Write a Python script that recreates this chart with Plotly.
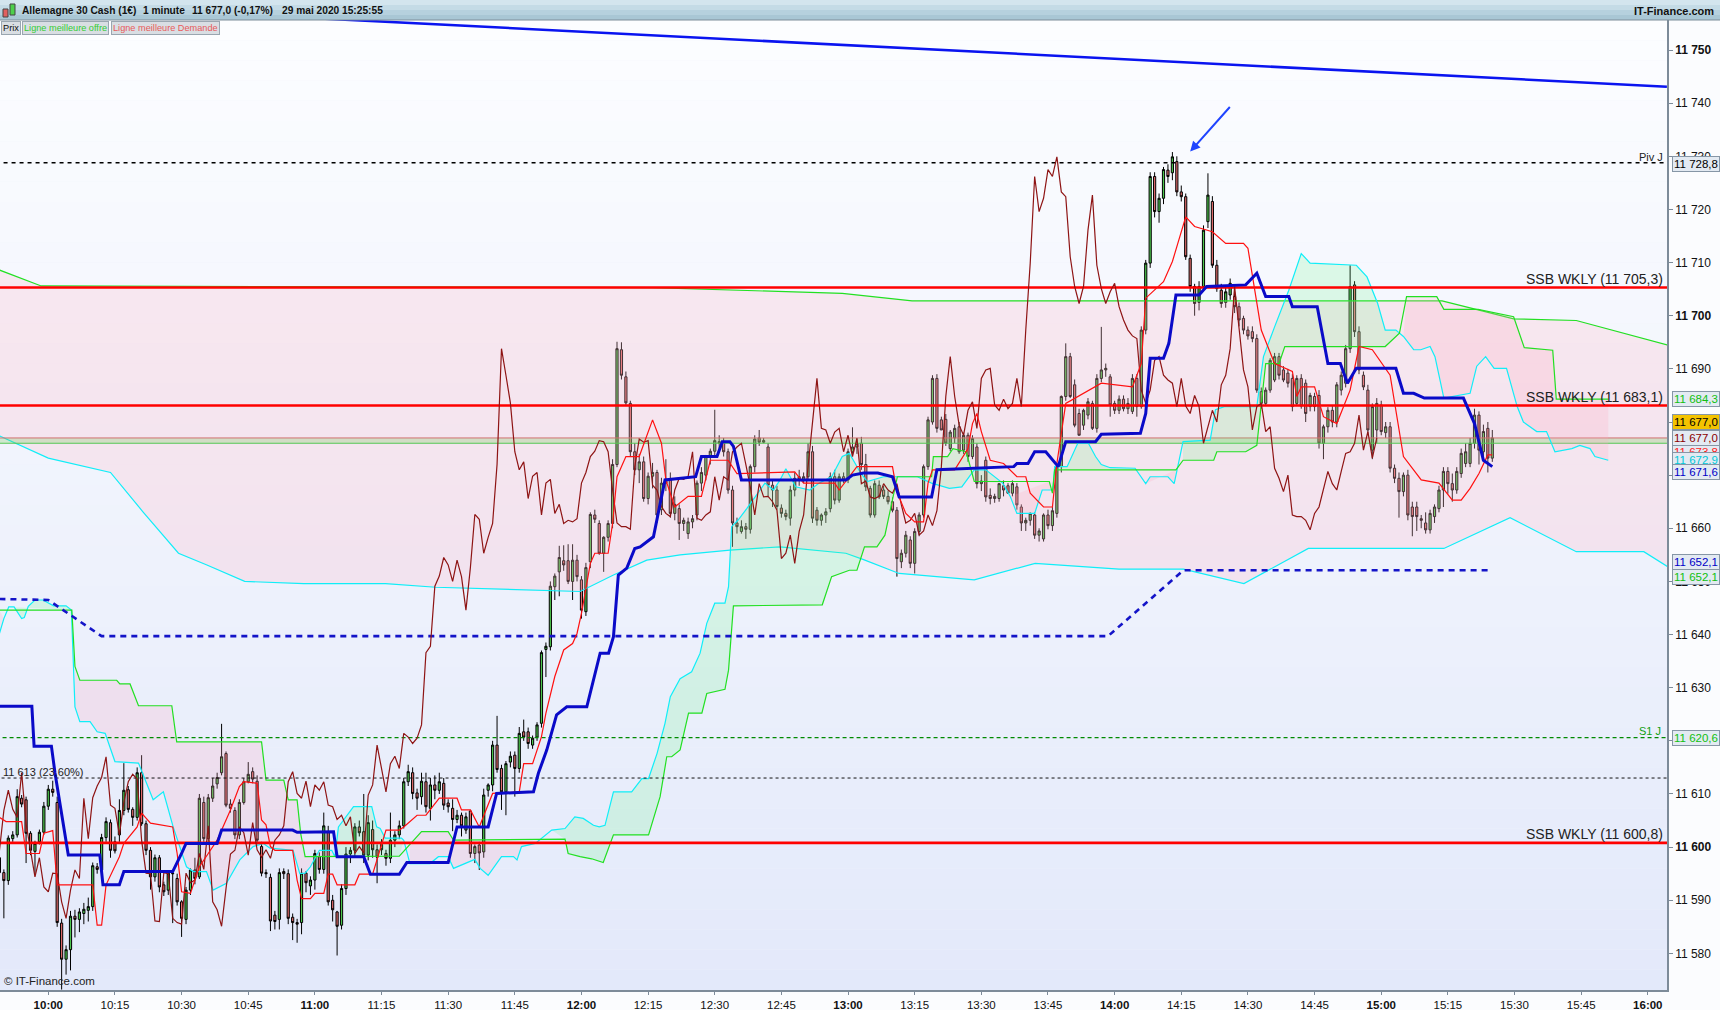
import plotly.graph_objects as go
from datetime import datetime, timedelta

# ---------------------------------------------------------------------------
# Données : DAX (Allemagne 30 Cash) en 1 minute, 29 mai 2020
# index des bougies = minutes depuis 10:00 (première bougie à 09:49)
# ---------------------------------------------------------------------------
BASE = datetime(2020, 5, 29, 10, 0)
FIRST_MINUTE = -11

opens = [
    11598, 11595.2, 11593.7, 11601.6, 11602.3, 11609.2, 11608.9, 11602.6, 11599.2, 11601,
    11602.8, 11607.7, 11610.9, 11608.4, 11585.7, 11578.9, 11580.7, 11587.0, 11586.4, 11587.5,
    11588.1, 11588.8, 11596.3, 11595.7, 11601.8, 11604.6, 11601, 11602.3, 11606.9, 11610.8,
    11607.1, 11605.6, 11614, 11604.4, 11599.4, 11594.4, 11598, 11592.9, 11591.9, 11595.1,
    11594.1, 11589.7, 11586.4, 11591.9, 11595.7, 11594.4, 11608.4, 11601.6, 11609.2, 11611.9,
    11614, 11617.6, 11608.1, 11606.9, 11602.3, 11608.4, 11612.3, 11614.2, 11612.4, 11600.1,
    11595.2, 11594.3, 11587.2, 11586.4, 11595.4, 11595, 11586.8, 11585.8, 11585.8, 11595.1,
    11592.7, 11593.8, 11598.2, 11595.8, 11602.9, 11590, 11587.8, 11585.3, 11592.2, 11598.7,
    11599.4, 11603.8, 11602.9, 11598.5, 11603.3, 11599.5, 11600.5, 11598.8, 11597.9, 11601.3,
    11602.3, 11604, 11612.3, 11614, 11610.2, 11609.5, 11612.3, 11607.3, 11611.7, 11610.7,
    11612, 11608.3, 11607.3, 11605.2, 11606, 11603.2, 11606.8, 11598.8, 11600.4, 11599.1,
    11610.7, 11611.7, 11619.2, 11614.8, 11610.4, 11616, 11617.3, 11614.8, 11621.7, 11621.7,
    11619.2, 11620.7, 11623.3, 11637.2, 11637.7, 11649, 11651.8, 11653.9, 11653.9, 11650,
    11654, 11650.3, 11644.3, 11653.7, 11662.5, 11660.9, 11655.3, 11658.3, 11660.9, 11672,
    11693.6, 11688.5, 11683.5, 11674.4, 11671, 11672.5, 11665.6, 11669.8, 11670.5, 11663.5,
    11668.5, 11669.2, 11662.8, 11663.7, 11660.9, 11659, 11661.2, 11662.5, 11668.5, 11670,
    11673.5, 11674.5, 11676, 11676.3, 11674.4, 11667.2, 11661, 11659.4, 11660.3, 11659.8,
    11671.6, 11677, 11676.2, 11675.3, 11668.1, 11667.2, 11663.8, 11662.8, 11661.9, 11667.2,
    11669.7, 11669.2, 11669.7, 11674.4, 11663.4, 11661.5, 11662.5, 11663.7, 11669.7, 11665.3,
    11669.7, 11669.1, 11674.4, 11675.3, 11676, 11672, 11667.5, 11662.5, 11668.1, 11667.2,
    11666, 11665, 11663.4, 11653.7, 11655.3, 11657.8, 11653.4, 11659.4, 11662.5, 11671.6,
    11680, 11688.2, 11680.4, 11680.5, 11675, 11677, 11679.1, 11674.7, 11677.5, 11673.5,
    11675.3, 11668.4, 11672.8, 11666.2, 11665.6, 11665.6, 11668, 11668, 11666.6, 11667.8,
    11664, 11661, 11661.5, 11662.5, 11658.7, 11658, 11662.5, 11660.5, 11662.8, 11671.6,
    11684.8, 11692.3, 11687, 11681.6, 11679.4, 11681.3, 11683.5, 11678.8, 11688.2, 11689.8,
    11688.5, 11683.5, 11682.2, 11684.3, 11682.5, 11682, 11688.2, 11682.9, 11697.3, 11709.9,
    11726.2, 11719.6, 11722.1, 11727.4, 11726.9, 11729, 11723.3, 11722.4, 11710.8, 11705.5,
    11702.5, 11705.5, 11717.7, 11721.5, 11709.5, 11704.8, 11702.5, 11703.9, 11703.6, 11701.7,
    11699.5, 11697.3, 11697, 11695.7, 11685.7, 11683.5, 11686, 11687.9, 11692.3, 11689.8,
    11689.2, 11688.2, 11683.5, 11688.2, 11687.3, 11682.9, 11684.8, 11685, 11676, 11679.1,
    11682.2, 11680, 11686, 11687.3, 11693.8, 11705.8, 11697, 11688.8, 11686, 11674.7,
    11678.5, 11683.2, 11678, 11679.1, 11671.3, 11669.4, 11666.9, 11670, 11664, 11664,
    11661.8, 11661, 11659.7, 11662.2, 11663.7, 11667.2, 11670.7, 11668.4, 11667.2, 11670.3,
    11672.2, 11672.2, 11676, 11681.3, 11674.4, 11678.8, 11673.2,
]
highs = [
    11599, 11595.8, 11602.2, 11603, 11610.9, 11609.8, 11609.5, 11603, 11601.2, 11603.3,
    11608.5, 11611.7, 11612.5, 11609.5, 11586.5, 11581.5, 11588, 11588.2, 11588.5, 11589.5,
    11590.5, 11597.1, 11597, 11602.5, 11605.6, 11605.2, 11602, 11609, 11615.8, 11611.5,
    11607.5, 11615, 11617.3, 11605, 11600, 11598.6, 11598.5, 11593.5, 11595.5, 11595.7,
    11595, 11590, 11592.5, 11596, 11598, 11610, 11609.5, 11610, 11613, 11614,
    11623.2, 11618, 11609, 11607.5, 11609, 11613, 11616, 11615, 11613.5, 11601,
    11595.8, 11595, 11588, 11596, 11596, 11595.8, 11587.5, 11586.5, 11596, 11595.5,
    11594.5, 11599.5, 11599, 11606.5, 11604, 11591, 11588, 11593, 11600, 11600,
    11604.5, 11605, 11610, 11606, 11605, 11600.5, 11601.5, 11599.5, 11606.5, 11603,
    11605, 11613, 11615.5, 11615, 11611, 11614, 11614, 11613, 11613.5, 11614,
    11613, 11609, 11609, 11607, 11606.5, 11606.5, 11607, 11600.5, 11601, 11611,
    11612, 11620, 11624.7, 11615.5, 11616.2, 11618, 11618, 11622.6, 11624, 11622.5,
    11621, 11623.5, 11637, 11638.5, 11650, 11651.5, 11656.7, 11656.8, 11657, 11657,
    11655, 11651, 11653.5, 11663, 11663.5, 11661.5, 11658.5, 11661.5, 11673, 11695.1,
    11695, 11689.5, 11684, 11676, 11674, 11673.5, 11670.5, 11672.3, 11671, 11669.5,
    11673, 11670.5, 11666, 11664.5, 11662, 11662, 11662.5, 11669, 11671.5, 11673.8,
    11675, 11682.3, 11677.5, 11677, 11675, 11668, 11662, 11661.5, 11661, 11672,
    11677.5, 11678.5, 11677, 11676, 11669, 11668, 11664.5, 11663.5, 11668, 11670.5,
    11671, 11670.5, 11676, 11675.5, 11664, 11662.8, 11663.8, 11670.5, 11671, 11670.3,
    11670.5, 11675, 11679, 11677, 11677.2, 11674, 11668, 11669, 11669, 11668,
    11667, 11665.8, 11664, 11656, 11659.5, 11658.5, 11660, 11663, 11672, 11681,
    11688.8, 11689, 11681, 11681.5, 11678.5, 11679.5, 11680, 11678, 11678, 11677.5,
    11676, 11670, 11673.5, 11667.5, 11666.5, 11668.5, 11669, 11668.5, 11669, 11668.5,
    11664.5, 11662, 11663, 11663, 11660, 11662.8, 11663.5, 11664, 11672, 11685,
    11694.8, 11693, 11688, 11682.5, 11682.5, 11684.5, 11684, 11689, 11697.9, 11691,
    11689, 11684, 11685, 11685, 11684.5, 11689, 11689, 11698, 11710.5, 11727,
    11727, 11723, 11728, 11728.5, 11730.8, 11730, 11724.5, 11723, 11711.5, 11706,
    11706.5, 11717, 11726.8, 11722.5, 11710.5, 11706, 11705.5, 11707, 11704.5, 11702.5,
    11700, 11698, 11698, 11696.5, 11686.5, 11686.5, 11692, 11693, 11693, 11690.5,
    11690, 11689, 11688.8, 11689, 11688, 11685.5, 11685.5, 11686, 11679.5, 11682.8,
    11683, 11687.5, 11689.5, 11694.5, 11709.5, 11706.5, 11698, 11689.5, 11687, 11683.5,
    11684.5, 11684, 11680, 11680, 11672, 11670.5, 11670.5, 11671, 11665, 11665,
    11662.5, 11663, 11663.5, 11664.5, 11668, 11671.5, 11671.5, 11670.3, 11671.5, 11675,
    11676, 11677, 11682.5, 11682, 11679.5, 11680, 11678.5,
]
lows = [
    11594, 11586.6, 11592.9, 11601, 11601.8, 11607.5, 11597, 11598.5, 11595, 11600.5,
    11602.3, 11607, 11609.5, 11585, 11573.2, 11576, 11576.8, 11583, 11584, 11585.5,
    11586, 11588, 11595, 11593.8, 11601, 11598, 11598.8, 11601, 11606, 11606.5,
    11604, 11605, 11604, 11598.5, 11592, 11593.5, 11591.5, 11590.8, 11591, 11585.7,
    11589, 11583.1, 11585.5, 11591, 11593, 11594, 11601, 11601, 11608.5, 11611,
    11613.5, 11607.5, 11606.5, 11601.5, 11601.5, 11608, 11612, 11612, 11600.5, 11594.5,
    11594.2, 11584.2, 11584.5, 11584.5, 11594, 11585.5, 11582.5, 11582, 11583.6, 11591.5,
    11591, 11592, 11595, 11595, 11589, 11586, 11579.6, 11584.5, 11591, 11597,
    11598, 11602, 11597, 11597.5, 11598, 11593.2, 11598.5, 11596.5, 11597, 11600,
    11601.5, 11603.5, 11611.5, 11609, 11607, 11608, 11606.5, 11605, 11609, 11610,
    11607, 11606.5, 11603, 11604.5, 11602, 11602.5, 11598, 11597, 11595.7, 11598,
    11609.5, 11610.5, 11614, 11607, 11606, 11615, 11609.5, 11614, 11620, 11618.5,
    11618.5, 11620, 11622.5, 11632, 11637, 11646.5, 11647.2, 11652, 11649.5, 11646.5,
    11650, 11643, 11643.5, 11652.5, 11661, 11655, 11651.8, 11657.5, 11660, 11671.5,
    11688, 11683, 11673.5, 11670, 11668.5, 11665, 11664.5, 11667.5, 11661, 11662.5,
    11667, 11662, 11661.5, 11657.8, 11659.5, 11658, 11660, 11661.5, 11667, 11669,
    11672, 11673.5, 11675, 11673.5, 11666.5, 11656.5, 11659, 11659, 11658, 11659,
    11670.5, 11675.5, 11676, 11666, 11664, 11663.5, 11662, 11661.5, 11660.5, 11666,
    11668, 11668.5, 11669, 11661, 11660.5, 11660.5, 11661, 11663, 11664.5, 11664.8,
    11668.5, 11668.5, 11674, 11674, 11671, 11667, 11662, 11662, 11665.5, 11665.5,
    11664.5, 11663, 11650.9, 11652.5, 11654.5, 11652.5, 11651.5, 11658.5, 11662, 11671,
    11679.5, 11678, 11678.5, 11675.5, 11674.5, 11676, 11674, 11674, 11672.5, 11673,
    11667.5, 11667, 11665, 11664.5, 11664.8, 11665, 11666, 11666.5, 11666, 11663.5,
    11659.5, 11659.5, 11660.5, 11658, 11657.5, 11657.5, 11659.8, 11659.5, 11662, 11670.5,
    11684, 11684.5, 11679, 11677.5, 11678.5, 11680.5, 11678.5, 11678, 11687.5, 11688.5,
    11681, 11681.5, 11681.5, 11682, 11681.5, 11681.5, 11681, 11682.5, 11696.5, 11709,
    11718.5, 11717.5, 11721, 11725, 11725.5, 11722.5, 11721.5, 11710.5, 11704.5, 11700,
    11701, 11705, 11716.5, 11709, 11704.5, 11701.5, 11701.5, 11703, 11700.5, 11698,
    11696.5, 11695.5, 11695, 11685.5, 11682.5, 11683, 11685.5, 11687.5, 11688, 11687.5,
    11686.5, 11682, 11683, 11682.5, 11680, 11682, 11682, 11675, 11673, 11678,
    11679, 11679, 11685, 11686.5, 11693, 11696, 11689, 11686, 11677.5, 11673,
    11676, 11677.5, 11677, 11670.5, 11668.5, 11662, 11666, 11661.5, 11658.5, 11659.5,
    11660, 11659, 11659, 11661, 11663, 11664, 11666.5, 11665, 11666.5, 11669.5,
    11671.5, 11671.5, 11675, 11672, 11673, 11670.5, 11672.5,
]
closes = [
    11595.2, 11593.7, 11601.7, 11602.3, 11609.5, 11608.1, 11602.6, 11599.4, 11600.7, 11602.8,
    11607.7, 11610.9, 11610.3, 11585.8, 11578.9, 11580.7, 11587.0, 11586.4, 11587.8, 11588.3,
    11588.8, 11596.5, 11595.8, 11601.8, 11604.8, 11599.4, 11599.3, 11606.9, 11610.7, 11607.1,
    11605.6, 11614.0, 11604.4, 11599.4, 11594.4, 11598, 11592.5, 11591.6, 11595.1, 11595,
    11589.7, 11586.6, 11591.9, 11595.7, 11594.1, 11609.2, 11601.6, 11609.3, 11611.5, 11613.1,
    11617.0, 11607.9, 11607.3, 11602.3, 11608.4, 11612.3, 11613.7, 11612.8, 11601.3, 11595.1,
    11595, 11586.1, 11586.0, 11595.2, 11595.0, 11586.6, 11585.8, 11585.5, 11595.1, 11593.3,
    11593.8, 11598.8, 11595.8, 11604.0, 11589.7, 11588.2, 11585.1, 11592.2, 11598.7, 11599.4,
    11603.8, 11602.7, 11598.5, 11604.6, 11599.5, 11598.1, 11599.5, 11597.9, 11601.3, 11602.3,
    11604, 11612.3, 11614.2, 11610.1, 11609.2, 11612.4, 11607.6, 11611.7, 11610.7, 11612.3,
    11607.9, 11607.6, 11605.2, 11606.0, 11604, 11605.7, 11598.8, 11600.1, 11598.9, 11609.8,
    11611.7, 11619.2, 11614.6, 11610.4, 11615.7, 11617.1, 11614.8, 11621.4, 11620.7, 11619.5,
    11620.5, 11623, 11636.6, 11637.8, 11649.1, 11651, 11654.5, 11653.1, 11650, 11654,
    11650.9, 11644.6, 11652.6, 11662.6, 11661.7, 11655.3, 11658.3, 11660.9, 11672.0, 11693.8,
    11688.8, 11683.6, 11674.4, 11671, 11672.5, 11665.6, 11669.8, 11670.5, 11662.5, 11668.5,
    11669.2, 11662.8, 11664.5, 11660.9, 11661.5, 11661.2, 11661.8, 11668.5, 11670.5, 11673.5,
    11674.5, 11676.5, 11676.3, 11674.4, 11667.2, 11661.0, 11660.3, 11660.3, 11659.8, 11671.6,
    11676.8, 11676.2, 11676.5, 11668.1, 11667.2, 11664.1, 11662.8, 11662.2, 11667.2, 11669.4,
    11669.2, 11669.7, 11674.4, 11661.9, 11661.5, 11662.5, 11663.1, 11669.7, 11665.3, 11669.7,
    11669.1, 11674.4, 11675.3, 11676, 11672, 11667.8, 11662.5, 11668.4, 11665.9, 11666,
    11665, 11663.4, 11654.3, 11655.3, 11658.7, 11653.4, 11659.4, 11662.5, 11671.6, 11680.4,
    11688.2, 11678.8, 11678.5, 11676, 11678.1, 11678.8, 11674.4, 11677.5, 11673.5, 11676.9,
    11668.4, 11668.9, 11665.9, 11665.6, 11666, 11668.4, 11667.2, 11666.6, 11668.4, 11664.4,
    11661, 11661.5, 11662.8, 11658.7, 11659.5, 11662.5, 11660.5, 11663.3, 11671.6, 11684.8,
    11692.3, 11684.8, 11679.4, 11677.5, 11682.2, 11683.8, 11678.8, 11688.2, 11689.8, 11690.1,
    11683.2, 11682.2, 11684.3, 11682.5, 11683.5, 11688.2, 11682.9, 11697.3, 11709.9, 11726.2,
    11719.6, 11722.1, 11727.5, 11726.2, 11729.9, 11723.3, 11722.4, 11711.1, 11705.5, 11702.3,
    11705.5, 11716.1, 11722.7, 11709.5, 11705.1, 11702.3, 11704.5, 11706.1, 11701.7, 11699.2,
    11697.3, 11696.2, 11695.7, 11686, 11683.5, 11686, 11691.6, 11692.3, 11688.8, 11687.9,
    11687.3, 11682.9, 11688.2, 11683, 11681.6, 11685, 11682.9, 11676, 11679.1, 11682.2,
    11680, 11687, 11688.8, 11693.8, 11705.5, 11697, 11689.8, 11686.6, 11678.5, 11682.9,
    11683.5, 11678.2, 11679.1, 11671.3, 11669.4, 11666.9, 11670, 11662.5, 11662.2, 11662.2,
    11661.5, 11659.7, 11662.8, 11664, 11667.2, 11670.7, 11668.4, 11667.2, 11670.7, 11674.1,
    11674.4, 11676, 11681.3, 11674.7, 11678.2, 11673.2, 11677.0,
]

# Ichimoku 1 minute (minute, prix)
tenkan = [
    (-11, 11605.6), (-9.5, 11604.8), (-6, 11604.8), (-5, 11598.8), (-2, 11598.8), (-1, 11602.6),
    (1, 11603.1), (2, 11592.9), (10, 11592.9), (11, 11585.3), (12, 11585.3), (13, 11592.9),
    (16, 11598.2), (17, 11600.7), (20, 11603.8), (21, 11606.4), (23, 11604.5), (28, 11603.8),
    (29, 11598.8), (30, 11591.6), (32, 11591.3), (34, 11596.3), (36, 11598.8), (38, 11601.3),
    (41, 11607), (43, 11611.4), (44, 11612.3), (47, 11612), (48, 11605.1), (49, 11604.2),
    (50, 11600.1), (51, 11599.4), (55, 11599.4), (56, 11593.8), (57, 11590.3), (59, 11590.3),
    (60, 11591.3), (62, 11591.3), (63, 11594.9), (64, 11594.9), (65, 11592.9), (69, 11592.9),
    (70, 11594.9), (73, 11594.9), (76, 11603.2), (79, 11603.2), (80, 11603.8), (83, 11606),
    (85, 11606), (88, 11609.2), (92, 11609.2), (93, 11607), (95, 11607), (97, 11603.8),
    (100, 11610.1), (106, 11610.4), (107, 11615.7), (109, 11615.7), (111, 11620.8), (112, 11625.2),
    (114, 11632.1), (116, 11637.1), (118, 11638.3), (119, 11640.2), (120, 11644), (122, 11653.4),
    (123, 11655.3), (126, 11655.3), (127, 11660.9), (128, 11669.7), (130, 11673.5), (133, 11673.5),
    (136, 11680.4), (138, 11676), (139, 11669.1), (141, 11664), (144, 11666), (147, 11666),
    (149, 11672.8), (153, 11672.8), (155, 11670.3), (168, 11670.6), (170, 11668.5), (177, 11668.5),
    (178, 11667.2), (182, 11671.6), (190, 11671.6), (191, 11666.9), (193, 11662.8), (195, 11661.2),
    (197, 11661.2), (198, 11668.5), (199, 11671), (204, 11671), (207, 11675), (208, 11679.7),
    (209, 11681.6), (210, 11678.2), (212, 11672.8), (215, 11672.2), (218, 11669.7), (220, 11669.7),
    (221, 11666.6), (224, 11664), (226, 11664), (227, 11672.2), (229, 11683.5), (237, 11687.3),
    (244, 11686.6), (246, 11691), (247, 11703.3), (251, 11706.4), (253, 11710.2), (256, 11718.6),
    (258, 11716.8), (262, 11715.8), (265, 11713.6), (269, 11713.6), (270, 11712.7), (273, 11697.3),
    (276, 11691), (280, 11689.5), (281, 11684.8), (282, 11686.6), (285, 11686.6), (287, 11681),
    (290, 11679.7), (293, 11686), (295, 11694.2), (298, 11693.6), (302, 11688.8), (305, 11673.5),
    (309, 11669.1), (313, 11668.5), (316, 11665.3), (318, 11665.3), (320, 11667.5), (322, 11670.3),
    (324, 11673.8), (325, 11673.8),
]
kijun = [
    (-11, 11626.5), (-3.7, 11626.5), (-3.2, 11619), (0.7, 11619), (1.5, 11614), (2.5, 11609),
    (3.5, 11604), (4.5, 11598.5), (11.6, 11598.5), (12.3, 11592.9), (16, 11592.9), (17, 11595.4),
    (28, 11595.4), (29, 11597), (30, 11598.8), (31, 11600.7), (38, 11600.7), (39, 11603.2),
    (55, 11603.2), (56, 11602.8), (64.2, 11602.9), (65, 11598.2), (71, 11598.2), (72.5, 11594.9),
    (79, 11594.9), (80.7, 11597.1), (90, 11597.1), (92, 11603.8), (99, 11603.8), (100.9, 11610.1),
    (109.2, 11610.4), (110.3, 11613.9), (112.2, 11618.3), (114.4, 11624.9), (116.7, 11626.4),
    (121.2, 11626.4), (123.8, 11635.2), (124.2, 11636.5), (126.1, 11636.5), (127.2, 11639.6),
    (128.3, 11651.2), (130.2, 11652.5), (132, 11656.2), (133.2, 11656.5), (136.2, 11658.4),
    (137.3, 11663.1), (138.8, 11669.1), (145.7, 11669.7), (147, 11673.5), (150.5, 11673.5),
    (151.7, 11676.3), (153.4, 11676.3), (154.2, 11675.4), (156, 11669.1), (179.5, 11669.1),
    (181, 11670), (183.5, 11670.4), (186.7, 11670.4), (190, 11669.7), (191.5, 11665.9),
    (198.8, 11665.9), (200, 11671), (217.3, 11671.6), (218, 11672.2), (220.5, 11672.2),
    (222, 11674.4), (224.5, 11674.4), (227.3, 11671.6), (229, 11676.3), (235.7, 11676.3),
    (237, 11677.7), (245.8, 11677.9), (247, 11681.6), (248, 11692), (251, 11692), (252.2, 11694.8),
    (253.8, 11703.9), (259, 11703.9), (260.7, 11705.5), (269.5, 11705.8), (272, 11708),
    (274, 11703.6), (279.2, 11703.6), (280, 11701.7), (285.6, 11701.7), (288, 11691),
    (290.8, 11691), (292.4, 11687.3), (294.4, 11690.1), (303.3, 11690.1), (305, 11685.4),
    (307.3, 11685.4), (309.7, 11684.5), (318.5, 11684.5), (321, 11679.7), (323, 11672.8),
    (325, 11671.6),
]
ssa = [
    (-11, 11640.2), (-10, 11643), (-8.9, 11645.2), (-7.7, 11645.2), (-6, 11643), (-5.4, 11643.2),
    (-4.5, 11645.3), (-3, 11646.5), (-1.2, 11646.5), (1.2, 11645.4), (4, 11645.4), (5.2, 11644.6),
    (6, 11626.4), (7.1, 11623.6), (9.4, 11623.6), (11, 11621.7), (12.8, 11621.4), (15, 11616.1),
    (20.3, 11615.8), (23.6, 11608.9), (25.9, 11610.4), (28.1, 11603.8), (31.1, 11596.3),
    (32.6, 11595.4), (35.6, 11595.4), (37.1, 11591.9), (40.1, 11593.2), (43.1, 11597.6),
    (46.1, 11600.1), (48.4, 11600.7), (49.9, 11599.8), (55.1, 11599.4), (56.6, 11595),
    (57.8, 11595.1), (59, 11596.3), (61, 11599.4), (63.8, 11599.4), (64.5, 11598.2),
    (65.3, 11603.8), (67, 11605.7), (68.7, 11607.6), (72.8, 11607.6), (73.9, 11603.8),
    (74.7, 11603.5), (75.8, 11601.7), (79.5, 11601.7), (80, 11601.3), (81.4, 11596.9),
    (85.9, 11596.9), (87.8, 11598.2), (90, 11598.2), (91.2, 11596), (94, 11597), (96, 11597.7),
    (97.2, 11596), (99, 11594.7), (102, 11598.2), (104.7, 11598.2), (105.5, 11597.6),
    (106.5, 11600.1), (109.6, 11600.7), (113.3, 11603.2), (116.3, 11603.5), (118.5, 11605.7),
    (120.4, 11605.4), (122.7, 11604.1), (124, 11603.8), (125.3, 11604.1), (127.2, 11610.4),
    (131.3, 11610.4), (133.6, 11612.9), (135.1, 11612.9), (137, 11617.6), (138.8, 11623.3),
    (140, 11628.3), (142.2, 11631.7), (144.8, 11633), (146.7, 11636.5), (148.2, 11642.1),
    (150, 11645.9), (152.3, 11645.9), (153.1, 11649), (153.8, 11660.3), (155.3, 11661.6),
    (157.2, 11663.7), (159.8, 11666.6), (161.3, 11668.5), (163.2, 11667.2), (164.7, 11669.1),
    (166, 11671.2), (168.2, 11667.8), (171.4, 11667.2), (173.5, 11668.5), (176.3, 11669.7),
    (178.7, 11673.5), (180.3, 11674.1), (182.7, 11670.6), (184.3, 11668.8), (188, 11669.7),
    (195.6, 11669.7), (198.8, 11668.5), (202.8, 11667.5), (205.6, 11667.8), (208.4, 11671),
    (211, 11671), (214.8, 11668.5), (216.5, 11666), (218, 11662.8), (222, 11662.8),
    (223.7, 11667.2), (226.1, 11667.2), (226.5, 11671.6), (229.3, 11671.6), (231.7, 11676),
    (234.1, 11676), (235.7, 11673.5), (237, 11672), (239, 11671.4), (244.6, 11671.3),
    (247, 11668.4), (248, 11669.7), (252, 11669.7), (253.4, 11668.4), (255.4, 11676.3),
    (261.5, 11676.6), (262.7, 11682.3), (264.7, 11682.9), (272, 11682.9), (273.5, 11692.3),
    (276, 11697.9), (279.2, 11704.8), (282, 11711.7), (284, 11709.9), (294.4, 11709.5),
    (296.8, 11707.3), (299.2, 11702.3), (300.9, 11697.3), (303.3, 11697.3), (305, 11696.1),
    (307.3, 11693.6), (308.9, 11693.6), (311, 11694.2), (312.1, 11692.3), (314.1, 11684.5),
    (320, 11685.4), (321.5, 11690.5), (323.5, 11692.3), (325.4, 11690.1), (328.2, 11690.1),
    (330.6, 11682.9), (332, 11680), (335, 11678.2), (337.2, 11678.2), (339.1, 11674.4),
    (342.9, 11675), (344.7, 11675.6), (347, 11675), (348.1, 11673.5), (351.1, 11672.8),
]
ssb = [
    (-11, 11644.6), (5.3, 11644.6), (6, 11634), (7.1, 11631.4), (15.4, 11631.4), (16.1, 11630.7),
    (18.4, 11630.7), (20.3, 11626.6), (27.8, 11626.6), (28.9, 11619.8), (48, 11619.8),
    (49, 11612.6), (53, 11612.6), (54, 11608.9), (56, 11608.9), (56.8, 11602.6), (57.8, 11598.2),
    (79, 11598.3), (81.4, 11600.5), (84, 11602.9), (90, 11602.9), (91.2, 11601.3),
    (116.3, 11601.5), (117, 11598.8), (119.7, 11598.2), (122.3, 11597.8), (124.9, 11597.1),
    (127.2, 11602.3), (135.1, 11602.3), (137.7, 11609.5), (139.2, 11617), (140.3, 11617),
    (142.2, 11618.3), (144.1, 11625.2), (147.1, 11625.2), (148.2, 11628.9), (152.3, 11629.7),
    (153.1, 11633.3), (154.2, 11645.4), (174.2, 11645.6), (176.3, 11650.9), (180.3, 11652.1),
    (182, 11652.1), (183.7, 11656.5), (186.5, 11656.5), (188.3, 11658.7), (191.1, 11669.7),
    (198.8, 11669.7), (199.2, 11673.5), (202.4, 11673.5), (203.6, 11675), (206.6, 11674.4),
    (208.4, 11668.8), (225.3, 11668.8), (226, 11666.6), (226.5, 11671), (253.8, 11671),
    (255.4, 11672.8), (262.3, 11672.8), (263, 11674.4), (269.5, 11674.4), (272, 11675.6),
    (274, 11691), (277, 11691), (278.3, 11694.2), (300.9, 11694.2), (304.1, 11696.7),
    (305.7, 11703.6), (312.5, 11703.6), (314.1, 11701.2), (321.8, 11701.2), (329.8, 11699.8),
    (332.2, 11694), (338.6, 11693.5), (339.4, 11684.3), (351.1, 11684.3),
]
# segments du nuage 1 min : (début, fin, couleur)
cloud_segments = [
    (-11, -9, "pink"), (-9, 5.6, "green"), (5.6, 64.5, "pink"), (64.5, 81.2, "green"),
    (81.2, 110, "pink"), (110, 216, "green"), (216, 226.3, "pink"), (226.3, 246, "green"),
    (246, 254.5, "pink"), (254.5, 304.5, "green"), (304.5, 351.1, "pink"),
]

# nuage d'unité supérieure (fond rose)
htf_top = [
    (-11, 11708.6), (-1.6, 11705.6), (136, 11705.3), (178.7, 11704.2), (194.4, 11702.8),
    (313.7, 11702.8), (321.8, 11701.1), (329.8, 11699.4), (343.9, 11699.1), (364.4, 11694.5),
]
htf_bottom = [
    (-11, 11677.4), (-5.6, 11675.4), (0, 11673.2), (14, 11670.5), (21.3, 11663.1), (29.3, 11655.3),
    (35.7, 11653.1), (44.2, 11650), (57.5, 11649.6), (75.9, 11649.6), (87.2, 11648.9),
    (119.7, 11648.1), (127.2, 11651.2), (134.7, 11654), (142.2, 11655), (153.4, 11655.9),
    (164.7, 11656.5), (179.5, 11655.3), (183.5, 11654.1), (191.5, 11651.5), (208.4, 11650.3),
    (222.1, 11653.4), (241, 11652.3), (255.5, 11652.3), (269.1, 11649.6), (283.6, 11656.2),
    (314.1, 11656.2), (329, 11662), (343.9, 11655.6), (359.1, 11655.6), (364.4, 11652.8),
]
htf_kijun = [(-11, 11646.7), (0, 11646.5), (12, 11639.7), (238.5, 11639.7), (255.5, 11652.1), (325, 11652.1)]
trendline = [(-11, 11759.0), (364.3, 11743.1)]

# niveaux horizontaux
ssb_weekly = [11705.3, 11683.1, 11600.8]
ssb_weekly_text = ["SSB WKLY (11 705,3)", "SSB WKLY (11 683,1)", "SSB WKLY (11 600,8)"]
pivot_j = 11728.8
s1_j = 11620.6
fibo_level = 11613.0
ask_level = 11677.0
bid_level = 11676.0

# étiquettes de prix à droite : (position, texte, couleur texte, fond)
price_tags = [
    (11728.6, "11 728,8", "#000000", "#e3eaf2"),
    (11684.3, "11 684,3", "#10c010", "#e3eaf2"),
    (11680.0, "11 677,0", "#000000", "#f3c300"),
    (11674.4, "11 673,8", "#ff2020", "#e3eaf2"),
    (11672.9, "11 672,9", "#00c8d8", "#e3eaf2"),
    (11676.9, "11 677,0", "#8b0000", "#e3eaf2"),
    (11670.6, "11 671,6", "#0000c8", "#e3eaf2"),
    (11653.6, "11 652,1", "#0000c8", "#e3eaf2"),
    (11650.8, "11 652,1", "#10c010", "#e3eaf2"),
    (11620.5, "11 620,6", "#10c010", "#e3eaf2"),
]

# ---------------------------------------------------------------------------
FONT = "Arial, 'Liberation Sans', sans-serif"
AXIS_X, TOP, BOTTOM = 1667, 20, 990
M_RANGE = (-10.87, 364.32)
P_RANGE = (11573.11, 11755.65)


def t(m):
    return BASE + timedelta(minutes=m)


def px(x):
    return x / AXIS_X


def py(y):
    return (BOTTOM - y) / (BOTTOM - TOP)


def xs(points):
    return [t(m) for m, _ in points]


def ys(points):
    return [p for _, p in points]


def seg(points, a, b):
    return [p for p in points if a <= p[0] <= b]


minutes = list(range(FIRST_MINUTE, FIRST_MINUTE + len(closes)))
times = [t(m) for m in minutes]

fig = go.Figure()

# nuage unité supérieure
fig.add_trace(go.Scatter(
    x=xs(htf_top) + xs(htf_bottom[::-1]), y=ys(htf_top) + ys(htf_bottom[::-1]),
    fill="toself", fillcolor="rgba(255,185,200,0.26)", line=dict(width=0),
    mode="lines", hoverinfo="skip"))
fig.add_trace(go.Scatter(x=xs(htf_top), y=ys(htf_top), mode="lines",
                         line=dict(color="#22e022", width=1.2), hoverinfo="skip"))
fig.add_trace(go.Scatter(x=xs(htf_bottom), y=ys(htf_bottom), mode="lines",
                         line=dict(color="#10eef8", width=1.2), hoverinfo="skip"))

# bande meilleure offre / demande
edge = [t(M_RANGE[0] - 1), t(M_RANGE[1] + 1)]
fig.add_trace(go.Scatter(x=edge, y=[bid_level, bid_level], mode="lines",
                         line=dict(color="#55c855", width=1), hoverinfo="skip"))
fig.add_trace(go.Scatter(x=edge, y=[ask_level, ask_level], mode="lines", fill="tonexty",
                         fillcolor="rgba(120,200,90,0.28)",
                         line=dict(color="#d07070", width=1), hoverinfo="skip"))

# nuage ichimoku 1 minute
cloud_colors = {"green": "rgba(90,250,120,0.17)", "pink": "rgba(255,170,190,0.22)"}
for a, b, c in cloud_segments:
    top = seg(ssb, a, b)
    bot = seg(ssa, a, b)
    fig.add_trace(go.Scatter(
        x=xs(top) + xs(bot[::-1]), y=ys(top) + ys(bot[::-1]), fill="toself",
        fillcolor=cloud_colors[c], line=dict(width=0), mode="lines", hoverinfo="skip"))
fig.add_trace(go.Scatter(x=xs(ssa), y=ys(ssa), mode="lines",
                         line=dict(color="#10eef8", width=1.2), hoverinfo="skip"))
fig.add_trace(go.Scatter(x=xs(ssb), y=ys(ssb), mode="lines",
                         line=dict(color="#22e022", width=1.2), hoverinfo="skip"))

# niveaux
for lvl in ssb_weekly:
    fig.add_trace(go.Scatter(x=edge, y=[lvl, lvl], mode="lines",
                             line=dict(color="#ff0000", width=2.6), hoverinfo="skip"))
fig.add_trace(go.Scatter(x=edge, y=[pivot_j, pivot_j], mode="lines",
                         line=dict(color="#000000", width=1.6, dash="4px,4px"), hoverinfo="skip"))
fig.add_trace(go.Scatter(x=edge, y=[s1_j, s1_j], mode="lines",
                         line=dict(color="#008a00", width=1.2, dash="4px,3px"), hoverinfo="skip"))
fig.add_trace(go.Scatter(x=edge, y=[fibo_level, fibo_level], mode="lines",
                         line=dict(color="#111111", width=1, dash="3px,3px"), hoverinfo="skip"))
fig.add_trace(go.Scatter(x=xs(htf_kijun), y=ys(htf_kijun), mode="lines",
                         line=dict(color="#1414c8", width=2.6, dash="6px,5px"), hoverinfo="skip"))
fig.add_trace(go.Scatter(x=xs(trendline), y=ys(trendline), mode="lines",
                         line=dict(color="#0a14f0", width=2.6), hoverinfo="skip"))

# chikou = clôtures décalées de 26 minutes
fig.add_trace(go.Scatter(x=[t(m - 26) for m in minutes], y=closes, mode="lines",
                         line=dict(color="#8e1414", width=1.2), hoverinfo="skip"))
fig.add_trace(go.Scatter(x=xs(tenkan), y=ys(tenkan), mode="lines",
                         line=dict(color="#ff1010", width=1.2), hoverinfo="skip"))
fig.add_trace(go.Scatter(x=xs(kijun), y=ys(kijun), mode="lines",
                         line=dict(color="#0a0ac8", width=3), hoverinfo="skip"))

fig.add_trace(go.Candlestick(
    x=times, open=opens, high=highs, low=lows, close=closes,
    increasing=dict(fillcolor="#4cc64c", line=dict(color="#000000", width=1)),
    decreasing=dict(fillcolor="#e06b6b", line=dict(color="#000000", width=1)),
    whiskerwidth=0, hoverinfo="skip"))

# fond dégradé + barre de titre
shapes = []
n_bands = 48
for i in range(n_bands):
    f = i / (n_bands - 1)
    shapes.append(dict(
        type="rect", xref="paper", yref="paper", x0=0, x1=1,
        y0=1 - (i + 1) / n_bands, y1=1 - i / n_bands, layer="below", line_width=0,
        fillcolor="rgb({},{},{})".format(round(252 - 25 * f), round(253 - 20 * f), round(255 - 5 * f))))
bar_colors = ["#d3e5ee", "#c4dbe6", "#b6d1de", "#a9c7d5"]
for i, c in enumerate(bar_colors):
    shapes.append(dict(type="rect", xref="paper", yref="paper", x0=0, x1=px(1720),
                       y0=py(5 * i + 5), y1=py(5 * i), fillcolor=c, line_width=0))
shapes.append(dict(type="line", xref="paper", yref="paper", x0=0, x1=px(1720),
                   y0=py(20), y1=py(20), line=dict(color="#7d8d99", width=1)))
# icône bougies
shapes.append(dict(type="rect", xref="paper", yref="paper", x0=px(3), x1=px(8), y0=py(17), y1=py(9),
                   fillcolor="#e06060", line=dict(color="#444", width=1)))
shapes.append(dict(type="rect", xref="paper", yref="paper", x0=px(10), x1=px(15), y0=py(15), y1=py(4),
                   fillcolor="#4cd04c", line=dict(color="#444", width=1)))

ann = []
title_parts = [(20, "Allemagne 30 Cash (1€)"), (141, "1 minute"), (190, "11 677,0 (-0,17%)"),
               (280, "29 mai 2020 15:25:55")]
for x0, txt in title_parts:
    ann.append(dict(xref="paper", yref="paper", x=px(x0), y=py(10.5), xanchor="left", yanchor="middle",
                    text="<b>" + txt + "</b>", showarrow=False,
                    font=dict(size=10.2, color="#111", family=FONT)))
ann.append(dict(xref="paper", yref="paper", x=px(1716), y=py(10.5), xanchor="right", yanchor="middle",
                text="<b>IT-Finance.com</b>", showarrow=False, font=dict(size=11, color="#111", family=FONT)))

legend_items = [(0.5, "Prix", "#111111"), (21.5, "Ligne meilleure offre", "#33cc33"),
                (111, "Ligne meilleure Demande", "#e85a5a")]
for x0, txt, col in legend_items:
    ann.append(dict(xref="paper", yref="paper", x=px(x0), y=py(20.5), xanchor="left", yanchor="top",
                    text=txt, showarrow=False, bgcolor="#d9dee3", bordercolor="#9aa6b0", borderwidth=1,
                    borderpad=1, font=dict(size=9.2, color=col, family=FONT)))

for lvl, txt in zip(ssb_weekly, ssb_weekly_text):
    ann.append(dict(xref="paper", yref="y", x=1, y=lvl, xanchor="right", yanchor="bottom", xshift=-2,
                    yshift=-1, text=txt, showarrow=False, font=dict(size=14, color="#222", family=FONT)))
ann.append(dict(xref="paper", yref="y", x=1, y=pivot_j, xanchor="right", yanchor="bottom", xshift=-2,
                yshift=-2, text="Piv J", showarrow=False, font=dict(size=11, color="#222", family=FONT)))
ann.append(dict(xref="paper", yref="y", x=1, y=s1_j, xanchor="right", yanchor="bottom", xshift=-4,
                yshift=-1, text="S1 J", showarrow=False, font=dict(size=11, color="#10a010", family=FONT)))
ann.append(dict(xref="paper", yref="y", x=0, y=fibo_level, xanchor="left", yanchor="bottom", xshift=1,
                yshift=-2, text="11 613 (23,60%)", showarrow=False, font=dict(size=11, color="#222", family=FONT)))
ann.append(dict(xref="paper", yref="paper", x=px(2), y=py(989), xanchor="left", yanchor="bottom",
                text="© IT-Finance.com", showarrow=False, font=dict(size=11.5, color="#222", family=FONT)))
for lvl, txt, col, bg in price_tags:
    ann.append(dict(xref="paper", yref="y", x=1, y=lvl, xanchor="left", yanchor="middle", xshift=5,
                    text=txt, showarrow=False, bgcolor=bg, bordercolor="#8696a6", borderwidth=1,
                    borderpad=1, font=dict(size=11.5, color=col, family=FONT)))
# flèche bleue sur le plus haut
ann.append(dict(x=t(257.0), y=11730.9, ax=41, ay=-46, text="", showarrow=True, arrowhead=2,
                arrowsize=1, arrowwidth=2, arrowcolor="#1f44ff"))

x_ticks = [t(15 * k) for k in range(25)]
x_text = ["<b>{:d}:00</b>".format(10 + k // 4) if k % 4 == 0 else "{:d}:{:02d}".format(10 + k // 4, 15 * (k % 4))
          for k in range(25)]
y_ticks = list(range(11580, 11751, 10))
y_text = ["<b>11 {:03d}</b>".format(v - 11000) if v % 50 == 0 else "11 {:03d}".format(v - 11000) for v in y_ticks]

fig.update_layout(
    width=1720, height=1010,
    margin=dict(l=0, r=53, t=20, b=20),
    paper_bgcolor="#fbfcfe", plot_bgcolor="#f0f3fb",
    showlegend=False, shapes=shapes, annotations=ann,
    font=dict(family=FONT, size=12, color="#111"),
    xaxis=dict(type="date", range=[t(M_RANGE[0]), t(M_RANGE[1])], rangeslider=dict(visible=False),
               tickvals=x_ticks, ticktext=x_text, ticks="outside", ticklen=3, tickcolor="#7d8b99",
               showgrid=False, zeroline=False, showline=True, linecolor="#7d8b99", linewidth=1.5,
               tickfont=dict(size=11.5, family=FONT, color="#111"), automargin=False, fixedrange=True),
    yaxis=dict(side="right", range=list(P_RANGE), tickvals=y_ticks, ticktext=y_text, ticks="outside",
               ticklen=4, tickcolor="#7d8b99", showgrid=False, zeroline=False, showline=True,
               mirror=True, linecolor="#7d8b99", linewidth=1.5, automargin=False,
               tickfont=dict(size=12, family=FONT, color="#111")),
)

fig.write_html("out.html", config={"displayModeBar": False},
               post_script="document.body.style.margin='0';document.body.style.overflow='hidden';")
